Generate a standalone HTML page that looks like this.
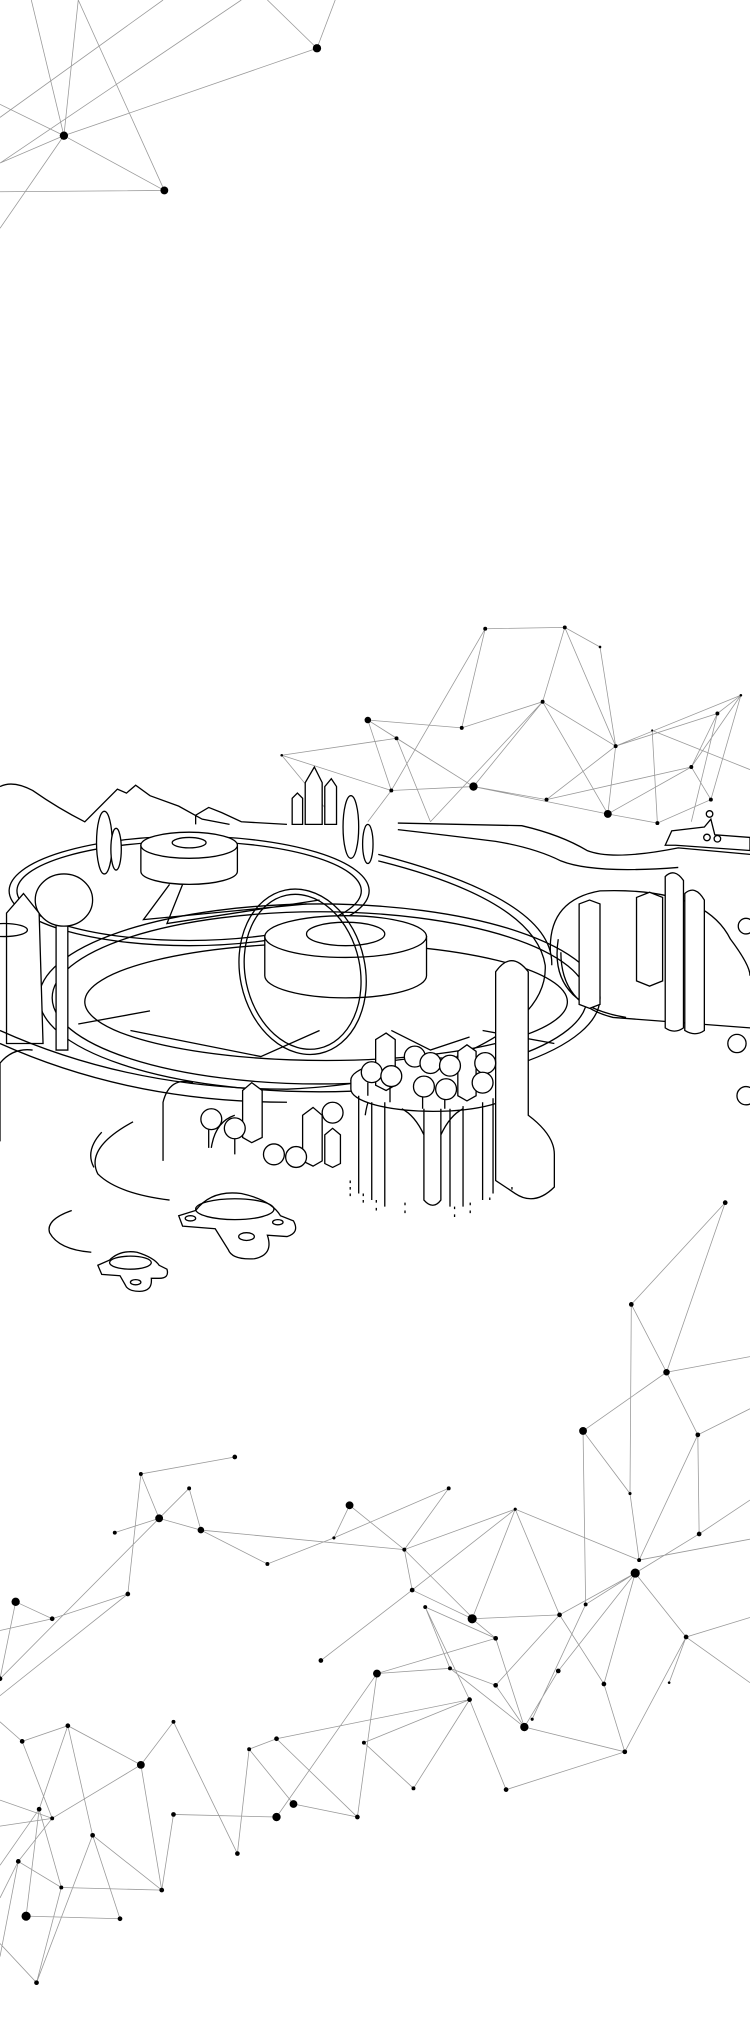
<!DOCTYPE html>
<html><head><meta charset="utf-8"><style>html,body{margin:0;padding:0;background:#fff}svg{display:block}</style></head>
<body>
<svg width="750" height="2044" viewBox="0 0 575 1567" preserveAspectRatio="none" xmlns="http://www.w3.org/2000/svg">
<g stroke="#999" stroke-width="0.6" fill="none">
<!-- top network -->
<path d="M49,104L126,146M49,104L243,37M49,104L0,80M24,0L49,104M125,0L0,90M205,0L243,37M257,0L243,37M185,0L0,125M0,147L126,146M0,175L49,104M49,104L0,125M49,104L60,0M60,0L126,146"/>
<!-- middle network -->
<path d="M372,482L433,481L460,496M372,482L354,558L282,552L304,566L216,579L300,606L363,603L419,613L472,572L416,538L354,558M433,481L416,538L466,624M433,481L472,572L466,624L504,631L545,613L530,588L550,547L568,533M460,496L472,572L550,547M282,552L300,606L282,630M304,566L363,603M282,552L363,603L416,538M216,579L258,630M354,558L416,538L330,630M372,482L300,606M363,603L466,624M419,613L530,588M500,560L504,631M530,588L568,533M545,613L568,533M472,572L568,533M466,624L530,588M500,560L575,590M550,547L530,630M304,566L330,630"/>
<!-- bottom network -->
<path d="M556,922L484,1000L511,1052L447,1097L483,1145L484,1000M556,922L511,1052L535,1100L575,1080M511,1052L575,1040M535,1100L490,1196L483,1145M447,1097L449,1230M535,1100L536,1176L575,1150M180,1117L108,1130L122,1164L88,1175M108,1130L98,1222M145,1141L154,1173L205,1199L256,1179L344,1141L310,1188L395,1157L490,1196M145,1141L122,1164L154,1173L310,1188M268,1154L256,1179M268,1154L310,1188L316,1219M12,1228L40,1241L98,1222M12,1228L0,1287L122,1164M98,1222L0,1300M395,1157L362,1241M395,1157L429,1238M395,1157L316,1219L246,1273M316,1219L362,1241L429,1238L487,1206L536,1176L575,1150M487,1206L526,1255L575,1240M487,1206L463,1291L479,1343L526,1255L513,1290M487,1206L428,1281L402,1324L380,1256L326,1232L345,1279L402,1324M326,1232L360,1303L388,1372L479,1343L402,1324M362,1241L380,1256L289,1283L345,1279L380,1292L402,1324M429,1238L380,1292M429,1238L463,1291M449,1230L487,1206M449,1230L408,1318M289,1283L212,1393M289,1283L274,1393L225,1383M360,1303L279,1336L317,1371L360,1303L212,1333L191,1341L182,1421L133,1320M212,1333L274,1393M191,1341L225,1383M212,1393L133,1391L124,1449L108,1353L52,1323L17,1335M108,1353L40,1394L0,1380M52,1323L71,1407L92,1471M52,1323L30,1387L20,1469M108,1353L133,1320M71,1407L124,1449L47,1447L14,1427L0,1455M17,1335L40,1394L14,1427M30,1387L47,1447L28,1520L0,1490M71,1407L28,1520M20,1469L92,1471M0,1320L17,1335M30,1387L0,1430M526,1255L575,1290M490,1196L575,1180M310,1188L363,1241M246,1273L316,1219M40,1241L0,1250M0,1400L40,1394M14,1427L0,1500"/>
</g>
<g fill="#000">
<circle cx="243" cy="37" r="3.2"/><circle cx="49" cy="104" r="3.2"/><circle cx="126" cy="146" r="3"/>
<circle cx="372" cy="482" r="1.5"/><circle cx="433" cy="481" r="1.5"/><circle cx="460" cy="496" r="1"/><circle cx="416" cy="538" r="1.5"/><circle cx="354" cy="558" r="1.5"/><circle cx="282" cy="552" r="2.5"/><circle cx="304" cy="566" r="1.5"/><circle cx="216" cy="579" r="1"/><circle cx="300" cy="606" r="1.5"/><circle cx="363" cy="603" r="3.2"/><circle cx="419" cy="613" r="1.5"/><circle cx="472" cy="572" r="1.5"/><circle cx="466" cy="624" r="3"/><circle cx="530" cy="588" r="1.5"/><circle cx="550" cy="547" r="1.5"/><circle cx="568" cy="533" r="1"/><circle cx="545" cy="613" r="1.5"/><circle cx="504" cy="631" r="1.5"/><circle cx="500" cy="560" r="0.8"/>
<circle cx="556" cy="922" r="1.8"/><circle cx="484" cy="1000" r="1.8"/><circle cx="511" cy="1052" r="2.5"/><circle cx="447" cy="1097" r="3"/><circle cx="535" cy="1100" r="1.8"/><circle cx="483" cy="1145" r="1.2"/><circle cx="180" cy="1117" r="1.8"/><circle cx="108" cy="1130" r="1.5"/><circle cx="145" cy="1141" r="1.5"/><circle cx="122" cy="1164" r="3"/><circle cx="88" cy="1175" r="1.5"/><circle cx="154" cy="1173" r="2.5"/><circle cx="268" cy="1154" r="3"/><circle cx="344" cy="1141" r="1.5"/><circle cx="395" cy="1157" r="1.2"/><circle cx="205" cy="1199" r="1.5"/><circle cx="256" cy="1179" r="1.2"/><circle cx="310" cy="1188" r="1.5"/><circle cx="12" cy="1228" r="3.2"/><circle cx="40" cy="1241" r="1.8"/><circle cx="98" cy="1222" r="1.8"/><circle cx="0" cy="1287" r="1.8"/><circle cx="316" cy="1219" r="1.8"/><circle cx="326" cy="1232" r="1.5"/><circle cx="362" cy="1241" r="3.5"/><circle cx="380" cy="1256" r="1.8"/><circle cx="429" cy="1238" r="1.8"/><circle cx="449" cy="1230" r="1.5"/><circle cx="487" cy="1206" r="3.5"/><circle cx="490" cy="1196" r="1.5"/><circle cx="536" cy="1176" r="1.8"/><circle cx="526" cy="1255" r="1.8"/><circle cx="246" cy="1273" r="1.8"/><circle cx="289" cy="1283" r="3"/><circle cx="345" cy="1279" r="1.5"/><circle cx="360" cy="1303" r="1.8"/><circle cx="380" cy="1292" r="1.8"/><circle cx="402" cy="1324" r="3.2"/><circle cx="408" cy="1318" r="1.2"/><circle cx="428" cy="1281" r="1.8"/><circle cx="463" cy="1291" r="1.8"/><circle cx="513" cy="1290" r="1"/><circle cx="479" cy="1343" r="1.8"/><circle cx="388" cy="1372" r="1.8"/><circle cx="317" cy="1371" r="1.5"/><circle cx="274" cy="1393" r="1.8"/><circle cx="279" cy="1336" r="1.5"/><circle cx="212" cy="1333" r="1.8"/><circle cx="191" cy="1341" r="1.5"/><circle cx="182" cy="1421" r="1.8"/><circle cx="225" cy="1383" r="3"/><circle cx="212" cy="1393" r="3.2"/><circle cx="133" cy="1320" r="1.5"/><circle cx="133" cy="1391" r="1.8"/><circle cx="124" cy="1449" r="1.8"/><circle cx="108" cy="1353" r="3"/><circle cx="52" cy="1323" r="1.8"/><circle cx="17" cy="1335" r="1.8"/><circle cx="30" cy="1387" r="1.8"/><circle cx="40" cy="1394" r="1.5"/><circle cx="71" cy="1407" r="1.8"/><circle cx="47" cy="1447" r="1.5"/><circle cx="14" cy="1427" r="1.8"/><circle cx="20" cy="1469" r="3.5"/><circle cx="92" cy="1471" r="1.8"/><circle cx="28" cy="1520" r="1.8"/>
</g>
<!-- city -->
<g stroke="#000" stroke-width="1" fill="#fff">
<path fill="none" d="M0,603 Q10,598 25,606 Q45,620 65,630 L90,605 L97,608 L104,602 L115,610 L137,618 L155,628 L176,632 M150,632 L150,625 L160,619 L170,623 L185,630 L220,632"/>
<path fill="none" d="M305,631 L400,633 Q430,640 450,652 Q470,660 520,650 L575,655"/>
<path fill="none" d="M305,636 Q340,640 380,645 Q410,650 430,660 Q455,670 520,665"/>
<ellipse cx="145" cy="683" rx="138" ry="42" fill="none"/>
<ellipse cx="145" cy="683" rx="132" ry="38" fill="none"/>
<ellipse cx="245" cy="765" rx="215" ry="72" fill="none"/>
<ellipse cx="245" cy="765" rx="205" ry="66" fill="none"/>
<ellipse cx="250" cy="768" rx="185" ry="45" fill="none"/>
<path fill="none" d="M290,660 Q410,690 418,740 Q420,780 350,810 M290,655 Q425,690 423,740"/>
<path d="M108,648 L108,668 A37,10 0 0 0 182,668 L182,648 Z"/>
<ellipse cx="145" cy="648" rx="37" ry="10"/><ellipse cx="145" cy="646" rx="13" ry="4"/>
<path d="M203,718 L203,748 A62,17 0 0 0 327,748 L327,718 Z"/>
<ellipse cx="265" cy="718" rx="62" ry="16"/><ellipse cx="265" cy="716" rx="30" ry="9"/>
<path fill="none" d="M130,678 L110,705 L235,693 M140,678 L128,708 L245,690 M100,790 L200,810 L245,790 M60,785 L115,775 M300,790 L330,805 L360,795 M370,790 L425,800"/>
<ellipse cx="232" cy="745" rx="48" ry="64" transform="rotate(-12 232 745)" fill="none"/>
<ellipse cx="232" cy="745" rx="44" ry="60" transform="rotate(-12 232 745)" fill="none"/>
<ellipse cx="80" cy="646" rx="6" ry="24"/><ellipse cx="89" cy="651" rx="4" ry="16"/>
<ellipse cx="269" cy="634" rx="6" ry="24"/><ellipse cx="282" cy="647" rx="4" ry="15"/>
<path d="M224,632 L224,612 L228,608 L232,612 L232,632 Z M234,632 L234,600 L241,588 L247,600 L247,632 Z M249,632 L249,603 L254,597 L258,603 L258,632 Z"/>
<path d="M5,800 L5,700 L18,685 L30,700 L33,800 Z"/>
<path d="M43,805 L43,705 L52,705 L52,805 Z"/>
<ellipse cx="49" cy="690" rx="22" ry="20"/>
<path fill="none" d="M0,790 Q100,835 220,835 Q290,832 330,815 M0,800 Q100,845 220,845"/>
<path fill="none" d="M0,875 L0,815 Q10,803 25,805 M125,890 L125,845 Q130,825 148,830 M162,880 Q165,860 180,855 M280,855 Q282,840 290,830"/>
<ellipse cx="332" cy="828" rx="63" ry="17"/>
<path d="M269,828 L269,835 A63,17 0 0 0 395,835 L395,828"/>
<path fill="none" d="M275,840 L275,915 M285,845 L285,920 M295,845 L295,925 M325,850 L325,920 Q332,928 338,920 L338,850 M345,850 L345,925 M355,848 L355,925 M370,845 L370,920 M378,842 L378,915 M308,850 Q318,855 325,870 M338,870 Q345,855 355,850"/>
<path d="M380,745 Q392,728 405,745 L405,855 Q425,870 425,885 L425,910 Q410,925 395,915 L380,905 Z"/>
<path fill="none" d="M422,730 Q420,690 460,683 Q540,680 560,720 Q575,740 575,748 M430,730 Q430,770 470,780 L575,788 M428,720 Q420,770 480,780"/>
<path d="M444,693 L452,690 L460,693 L460,770 L452,773 L444,770 Z"/>
<path d="M488,688 L498,684 L508,688 L508,752 L498,756 L488,752 Z"/>
<path d="M510,672 Q517,665 524,675 L524,788 Q517,793 510,788 Z"/>
<path d="M525,685 Q533,678 540,690 L540,790 Q533,795 525,790 Z"/>
<path d="M510,648 L515,637 L540,634 L545,628 L548,640 L575,642 L575,652 L518,648 Z"/>
<circle cx="544" cy="624" r="2.5"/><circle cx="542" cy="642" r="2.5"/><circle cx="550" cy="643" r="2.5"/>
<path d="M186,836 L193,830 L201,836 L201,872 L193,876 L186,872 Z"/>
<path d="M232,855 L240,849 L247,855 L247,890 L240,894 L232,890 Z"/>
<path d="M249,870 L255,865 L261,870 L261,892 L255,895 L249,892 Z"/>
<path d="M288,797 L296,792 L303,797 L303,832 L296,836 L288,832 Z"/>
<path d="M351,806 L358,801 L365,806 L365,840 L358,844 L351,840 Z"/>
<g fill="#fff">
<circle cx="162" cy="858" r="8"/><circle cx="180" cy="865" r="8"/><circle cx="210" cy="885" r="8"/><circle cx="227" cy="887" r="8"/><circle cx="255" cy="853" r="8"/>
<circle cx="285" cy="822" r="8"/><circle cx="300" cy="825" r="8"/><circle cx="318" cy="810" r="8"/><circle cx="330" cy="815" r="8"/><circle cx="345" cy="817" r="8"/><circle cx="325" cy="833" r="8"/><circle cx="342" cy="835" r="8"/><circle cx="372" cy="815" r="8"/><circle cx="370" cy="830" r="8"/>
<circle cx="565" cy="800" r="7"/><circle cx="572" cy="840" r="7"/><circle cx="572" cy="710" r="6"/>
</g>
<path fill="none" d="M160,866 L160,880 M180,873 L180,885 M282,830 L282,840 M299,833 L299,845 M324,841 L324,850 M341,843 L341,850"/>
<path fill="none" d="M102,860 Q65,880 75,900 Q90,915 130,920 M78,868 Q65,882 72,895"/>
<path fill="none" d="M55,928 Q35,935 38,945 Q45,958 70,960"/>
<path d="M137,932 L150,928 Q162,912 185,915 Q208,920 215,932 L225,936 Q230,945 220,948 L205,947 Q210,962 195,965 Q178,966 175,958 L165,942 L140,940 Z"/>
<ellipse cx="180" cy="927" rx="30" ry="8" fill="none"/><ellipse cx="189" cy="948" rx="6" ry="3" fill="none"/><ellipse cx="146" cy="934" rx="4" ry="2" fill="none"/><ellipse cx="213" cy="937" rx="4" ry="2" fill="none"/>
<path d="M75,970 L84,966 Q92,958 105,960 Q118,964 122,970 L128,973 Q130,980 122,980 L116,980 Q117,990 107,990 Q98,990 96,985 L92,978 L78,977 Z"/>
<ellipse cx="100" cy="968" rx="16" ry="5" fill="none"/><ellipse cx="104" cy="983" rx="4" ry="2" fill="none"/>
<ellipse cx="3" cy="713" rx="18" ry="5" fill="none"/>
</g>
<g fill="#000"><path d="M268,905h1v2h-1zM268,910h1v2h-1zM268,915h1v2h-1zM278,915h1v2h-1zM278,920h1v2h-1zM288,920h1v2h-1zM288,926h1v2h-1zM310,922h1v2h-1zM310,928h1v2h-1zM348,925h1v2h-1zM348,931h1v2h-1zM360,922h1v2h-1zM360,928h1v2h-1zM375,918h1v2h-1zM392,910h1v2h-1z"/></g>
</svg>
</body></html>
